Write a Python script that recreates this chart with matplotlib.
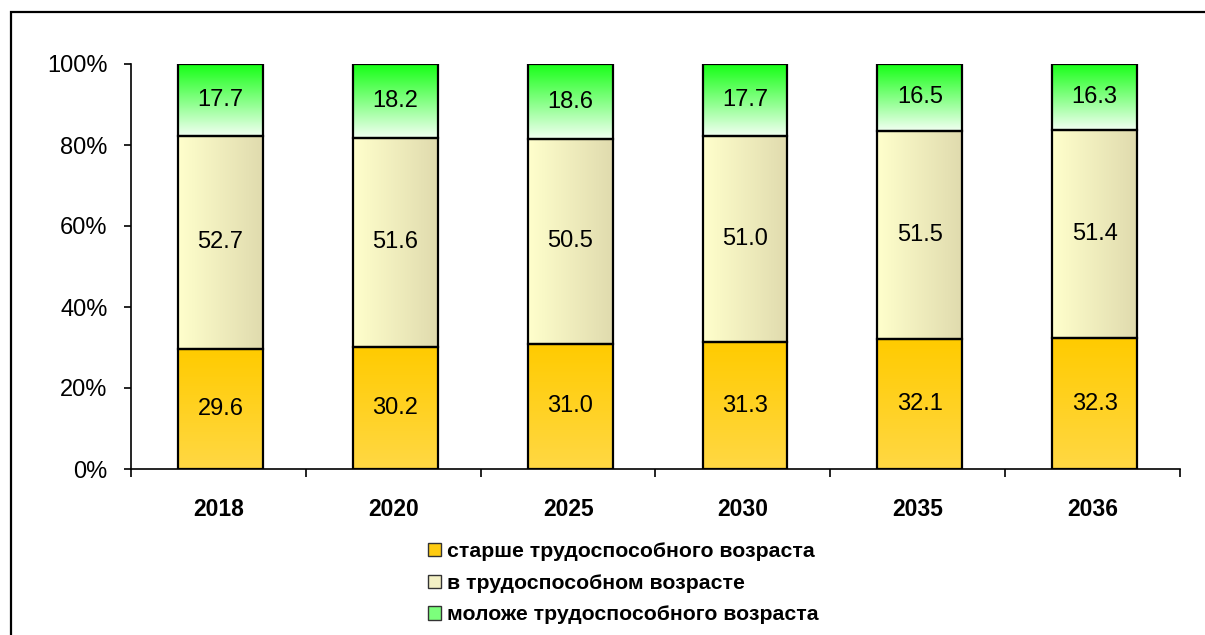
import numpy as np
import matplotlib
matplotlib.use('Agg')
import matplotlib.pyplot as plt
from matplotlib.colors import LinearSegmentedColormap
from matplotlib.patches import Rectangle, Patch

# данные (проценты)
years = ['2018', '2020', '2025', '2030', '2035', '2036']
older = [29.6, 30.2, 31.0, 31.3, 32.1, 32.3]
working = [52.7, 51.6, 50.5, 51.0, 51.5, 51.4]
younger = [17.7, 18.2, 18.6, 17.7, 16.5, 16.3]
names = ['старше трудоспособного возраста',
         'в трудоспособном возрасте',
         'моложе трудоспособного возраста']

plt.rcParams['font.family'] = ['Liberation Sans', 'DejaVu Sans']

W, H = 1205, 635
fig = plt.figure(figsize=(W / 100, H / 100), dpi=100)
ax = fig.add_axes([131 / W, 1 - 469 / H, (1180 - 131) / W, (469 - 64) / H])

x = np.arange(len(years))
data = np.array([older, working, younger])
pct = data / data.sum(axis=0) * 100

# градиенты: (цветовая карта, направление)
grads = [
    (LinearSegmentedColormap.from_list('o', ['#FFD844', '#FFCB00']), 'v'),
    (LinearSegmentedColormap.from_list('w', ['#FFFFCC', '#E0DBAE']), 'h'),
    (LinearSegmentedColormap.from_list('y', ['#F2FFF2', '#16FF16']), 'v'),
]
legend_colors = ['#FFCC11', '#F3F0C4', '#7CFF7C']

bar_w = 0.485
for i in range(3):
    bottoms = pct[:i].sum(axis=0)
    bars = ax.bar(x + 0.012, pct[i], bar_w, bottom=bottoms, facecolor='none',
                  edgecolor='black', linewidth=1.6, zorder=3)
    cmap, direction = grads[i]
    if direction == 'v':
        g = np.linspace(0, 1, 256).reshape(-1, 1)
    else:
        g = np.linspace(0, 1, 256).reshape(1, -1)
    for bar, val in zip(bars, data[i]):
        x0, y0 = bar.get_x(), bar.get_y()
        w, h = bar.get_width(), bar.get_height()
        ax.imshow(g, cmap=cmap, extent=[x0, x0 + w, y0, y0 + h],
                  aspect='auto', origin='lower', zorder=2)
        ax.text(x0 + w / 2, y0 + h / 2, f'{val:.1f}', ha='center',
                va='center', fontsize=17, zorder=4)

ax.set_xlim(-0.5, len(years) - 0.5)
ax.set_ylim(0, 100)
ax.set_yticks(range(0, 101, 20))
ax.set_yticklabels([f'{v}%' for v in range(0, 101, 20)], fontsize=17)
ax.set_xticks(x)
ax.set_xticklabels(years, fontsize=16.5, fontweight='bold')
ax.set_xticks(np.arange(-0.5, len(years)), minor=True)
ax.tick_params(axis='x', which='major', length=0, pad=21)
ax.tick_params(axis='x', which='minor', length=6, width=1.2, direction='out')
ax.tick_params(axis='y', length=5, width=1.2, pad=12)
for s in ['top', 'right']:
    ax.spines[s].set_visible(False)
for s in ['left', 'bottom']:
    ax.spines[s].set_linewidth(1.2)

# рамка вокруг диаграммы
fig.add_artist(Rectangle((11 / W, -0.1), 1.2, 1 - 12 / H + 0.1,
                         transform=fig.transFigure, fill=False,
                         edgecolor='black', linewidth=1.6))

handles = [Patch(facecolor=c, edgecolor='#333333', linewidth=1) for c in legend_colors]
fig.legend(handles, names, loc='upper left', bbox_to_anchor=(428 / W, 1 - 542 / H),
           frameon=False, prop=dict(weight='bold', size=15.3),
           handlelength=0.6, handleheight=0.6, handletextpad=0.3,
           labelspacing=0.6, borderpad=0, borderaxespad=0)

fig.savefig('out.png', dpi=100)
